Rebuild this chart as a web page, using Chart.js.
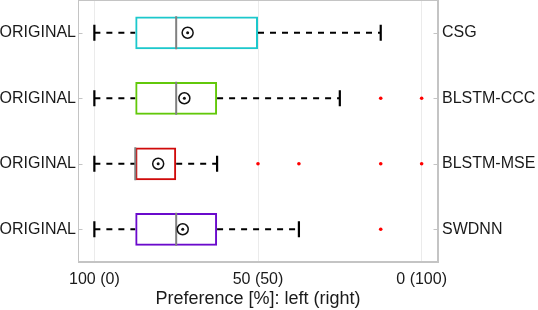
<!DOCTYPE html>
<html>
<head>
<meta charset="utf-8">
<script src="https://cdn.jsdelivr.net/npm/chart.js@4"></script>
<style>
html,body{margin:0;padding:0;background:#fff;}
#wrap{width:538px;height:310px;}
</style>
</head>
<body>
<div id="wrap"><canvas id="c" width="538" height="310"></canvas></div>
<script>
// ---- data ----
const methods = ['CSG', 'BLSTM-CCC', 'BLSTM-MSE', 'SWDNN'];
const leftLabel = 'ORIGINAL';
const whiskerLow = [100, 100, 100, 100];
const q1 = [87.5, 87.5, 87.5, 87.5];
const medians = [75, 75, 87.5, 75];
const q3 = [50, 62.5, 75, 62.5];
const whiskerHigh = [12.5, 25, 62.5, 37.5];
const means = [71.5, 72.5, 80.5, 73];
const outliers = [[], [12.5, 0], [50, 37.5, 12.5, 0], [12.5]];
const xTickValues = [100, 50, 0];
const xTickLabels = ['100 (0)', '50 (50)', '0 (100)'];
const xTitle = 'Preference [%]: left (right)';
const boxColors = ['#1cc8cc', '#62c80a', '#d00a0a', '#6a0acc'];

const FONT = {family: "'Liberation Sans', Arial, sans-serif", size: 16};
const TITLE_FONT = {family: "'Liberation Sans', Arial, sans-serif", size: 18};
const TXT = '#1a1a1a';
const AXIS = '#c4c4c4';

const datasets = [];
// boxes
datasets.push({
  type: 'bar',
  data: methods.map((m, i) => [q3[i], q1[i]]),
  backgroundColor: 'rgba(0,0,0,0)',
  borderColor: boxColors,
  borderWidth: 2,
  borderSkipped: false,
  barPercentage: 0.5,
  categoryPercentage: 1,
  order: 5
});
// whiskers
methods.forEach((m, i) => {
  datasets.push({
    type: 'line',
    data: [
      {x: whiskerLow[i], y: m}, {x: q1[i], y: m},
      {x: null, y: m},
      {x: q3[i], y: m}, {x: whiskerHigh[i], y: m}
    ],
    borderColor: '#000',
    borderWidth: 2,
    borderDash: [6, 6],
    pointRadius: 0,
    spanGaps: false,
    order: 6
  });
});
// caps
datasets.push({
  type: 'line',
  showLine: false,
  data: methods.flatMap((m, i) => [{x: whiskerLow[i], y: m}, {x: whiskerHigh[i], y: m}]),
  pointStyle: 'line',
  rotation: 90,
  pointRadius: 8,
  borderColor: '#000',
  borderWidth: 2.2,
  order: 4
});
// medians
datasets.push({
  type: 'line',
  showLine: false,
  data: methods.map((m, i) => ({x: medians[i], y: m})),
  pointStyle: 'line',
  rotation: 90,
  pointRadius: 16.5,
  borderColor: '#808080',
  borderWidth: 2,
  order: 3
});
// means: circle + dot
datasets.push({
  type: 'line',
  showLine: false,
  data: methods.map((m, i) => ({x: means[i], y: m})),
  pointStyle: 'circle',
  pointRadius: 5.5,
  backgroundColor: 'rgba(0,0,0,0)',
  borderColor: '#111',
  borderWidth: 1.5,
  order: 2
});
datasets.push({
  type: 'line',
  showLine: false,
  data: methods.map((m, i) => ({x: means[i], y: m})),
  pointStyle: 'circle',
  pointRadius: 1.5,
  backgroundColor: '#111',
  borderColor: '#111',
  borderWidth: 0,
  order: 1
});
// outliers
datasets.push({
  type: 'line',
  showLine: false,
  data: methods.flatMap((m, i) => outliers[i].map(v => ({x: v, y: m}))),
  pointStyle: 'circle',
  pointRadius: 1.8,
  backgroundColor: '#ff0000',
  borderColor: '#ff0000',
  borderWidth: 0,
  order: 0
});

const frame = {
  id: 'frame',
  afterDatasetsDraw(chart) {
    const {ctx, chartArea: a} = chart;
    const ys = chart.scales.y;
    ctx.save();
    ctx.strokeStyle = AXIS;
    ctx.lineWidth = 1;
    const L = Math.round(a.left) + 0.5, T = Math.round(a.top) + 0.5;
    const R = Math.round(a.right) - 0.5, B = Math.round(a.bottom) - 0.5;
    ctx.strokeRect(L, T, R - L, B - T);
    ctx.beginPath();
    ys.ticks.forEach((t, i) => {
      const py = Math.round(ys.getPixelForTick(i)) + 0.5;
      ctx.moveTo(L, py); ctx.lineTo(L + 4, py);
      ctx.moveTo(R, py); ctx.lineTo(R - 4, py);
    });
    ctx.stroke();
    ctx.restore();
  }
};

function noPad(s) { s.paddingTop = 0; s.paddingBottom = 0; s.paddingLeft = 0; s.paddingRight = 0; }

new Chart(document.getElementById('c'), {
  type: 'bar',
  data: {labels: methods, datasets},
  plugins: [frame],
  options: {
    indexAxis: 'y',
    responsive: false,
    animation: false,
    events: [],
    layout: {padding: 0, autoPadding: false},
    plugins: {legend: {display: false}, tooltip: {enabled: false}},
    scales: {
      x: {
        type: 'linear',
        reverse: true,
        min: -5,
        max: 105,
        afterBuildTicks: (axis) => { axis.ticks = xTickValues.map(v => ({value: v})); },
        afterFit: (s) => { noPad(s); s.height = 48; },
        ticks: {
          font: FONT, color: TXT, padding: 8, maxRotation: 0, autoSkip: false,
          callback: (v) => xTickLabels[xTickValues.indexOf(v)]
        },
        grid: {color: '#ebebeb', drawTicks: false},
        border: {color: AXIS},
        title: {display: true, text: xTitle, font: TITLE_FONT, color: TXT, padding: {top: 0, bottom: 0}}
      },
      y: {
        type: 'category',
        position: 'left',
        offset: true,
        afterFit: (s) => { noPad(s); s.width = 78; },
        ticks: {font: FONT, color: TXT, padding: 2, callback: () => leftLabel},
        grid: {display: false, drawTicks: false},
        border: {color: AXIS}
      },
      y2: {
        type: 'category',
        position: 'right',
        labels: methods,
        offset: true,
        afterFit: (s) => { noPad(s); s.width = 100; },
        ticks: {font: FONT, color: TXT, padding: 4},
        grid: {display: false, drawTicks: false, drawOnChartArea: false},
        border: {color: AXIS}
      }
    }
  }
});
</script>
</body>
</html>
